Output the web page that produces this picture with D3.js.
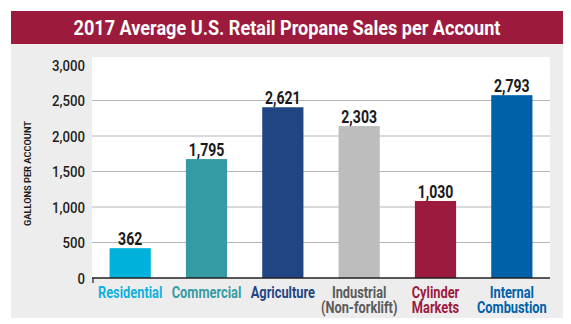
<!DOCTYPE html>
<html>
<head>
<meta charset="utf-8">
<script src="https://cdn.jsdelivr.net/npm/d3@7/dist/d3.min.js"></script>
<style>
  html, body { margin: 0; padding: 0; background: #ffffff; }
  svg { display: block; }
  text { font-family: Roboto, "Liberation Sans", sans-serif; }
</style>
</head>
<body>
<div id="chart"></div>
<script>
// ---- data ----
const title = "2017 Average U.S. Retail Propane Sales per Account";
const yAxisTitle = "GALLONS PER ACCOUNT";
const categories = ["Residential", "Commercial", "Agriculture", "Industrial\n(Non-forklift)", "Cylinder\nMarkets", "Internal\nCombustion"];
// labelled values
const values = [362, 1795, 2621, 2303, 1030, 2793];
// bar tops as drawn in the picture, read against the axis
const barHeights = [420, 1675, 2405, 2140, 1085, 2575];
const yTicks = [0, 500, 1000, 1500, 2000, 2500, 3000];
const barColors = ["#00b1db", "#349ba4", "#1f4682", "#bdbdbd", "#9c1a3e", "#0061a9"];
const labelColors = ["#12b0dc", "#349ba4", "#1f4682", "#5b5b5b", "#9c1a3e", "#0061a9"];

// ---- helpers ----
function condense(sel, k) {
  sel.each(function () {
    const w = this.getComputedTextLength();
    d3.select(this).attr("textLength", w * k).attr("lengthAdjust", "spacingAndGlyphs");
  });
}

// ---- layout ----
const W = 571, H = 324;
const svg = d3.select("#chart").append("svg").attr("width", W).attr("height", H);

// background panel
svg.append("rect").attr("x", 11).attr("y", 44).attr("width", 552).attr("height", 274).attr("fill", "#eeeded");
// title banner
svg.append("rect").attr("x", 11).attr("y", 11).attr("width", 552).attr("height", 33).attr("fill", "#9c1a3c");
svg.append("text").attr("x", 287).attr("y", 35).attr("text-anchor", "middle")
  .attr("fill", "#ffffff").attr("font-size", 21).attr("font-weight", "bold")
  .attr("textLength", 427).attr("lengthAdjust", "spacingAndGlyphs").text(title);

const plot = { left: 92, right: 550, top: 57, bottom: 278 };
svg.append("rect").attr("x", plot.left).attr("y", plot.top)
  .attr("width", plot.right - plot.left).attr("height", plot.bottom - plot.top).attr("fill", "#ffffff");

const x = d3.scaleBand().domain(categories).range([plot.left, plot.right]).paddingInner(0.46).paddingOuter(0.23);
const y = d3.scaleLinear().domain([0, 3000]).range([plot.bottom, 65]);

// grid lines
svg.append("g").selectAll("line").data(yTicks.filter(t => t > 0 && t < 3000)).join("line")
  .attr("x1", plot.left).attr("x2", plot.right)
  .attr("y1", d => y(d)).attr("y2", d => y(d))
  .attr("stroke", "#b5b5b5").attr("stroke-width", 1.2);

// y axis labels
const yAxis = d3.axisLeft(y).tickValues(yTicks).tickFormat(d3.format(",")).tickSize(0).tickPadding(0);
const gy = svg.append("g").attr("transform", `translate(${plot.left - 7},0)`).call(yAxis);
gy.select(".domain").remove();
gy.selectAll("text").attr("font-size", 15).attr("font-weight", 500).attr("fill", "#231f20")
  .attr("font-family", "Roboto, sans-serif").attr("dy", "0.36em");
condense(gy.selectAll("text"), 0.88);

// y axis title
svg.append("text").attr("transform", `translate(31,${(plot.top + plot.bottom) / 2 + 6}) rotate(-90)`)
  .attr("text-anchor", "middle").attr("font-size", 9.5).attr("font-weight", "bold").attr("fill", "#231f20")
  .attr("textLength", 105).attr("lengthAdjust", "spacingAndGlyphs")
  .text(yAxisTitle);

// bars
svg.append("g").selectAll("rect").data(categories).join("rect")
  .attr("x", d => x(d)).attr("width", x.bandwidth())
  .attr("y", (d, i) => y(barHeights[i]))
  .attr("height", (d, i) => y(0) - y(barHeights[i]))
  .attr("fill", (d, i) => barColors[i]);

// value labels
const vl = svg.append("g").selectAll("text").data(categories).join("text")
  .attr("x", d => x(d) + x.bandwidth() / 2)
  .attr("y", (d, i) => y(barHeights[i]) - 3)
  .attr("text-anchor", "middle").attr("font-size", 18).attr("font-weight", "bold").attr("fill", "#1a1a1a")
  .text((d, i) => d3.format(",")(values[i]));
condense(vl, 0.78);

// baseline
svg.append("line").attr("x1", plot.left).attr("x2", plot.right).attr("y1", y(0)).attr("y2", y(0))
  .attr("stroke", "#231f20").attr("stroke-width", 1.6);
svg.append("line").attr("x1", plot.left + 1).attr("x2", plot.left + 1).attr("y1", y(0)).attr("y2", y(0) + 5)
  .attr("stroke", "#231f20").attr("stroke-width", 1.2);

// category labels
const cl = svg.append("g").selectAll("text").data(categories).join("text")
  .attr("text-anchor", "middle").attr("font-size", 16).attr("font-weight", "bold")
  .attr("fill", (d, i) => labelColors[i])
  .attr("transform", d => `translate(${x(d) + x.bandwidth() / 2},298)`);
const ts = cl.selectAll("tspan").data(d => d.split("\n")).join("tspan")
  .attr("x", 0).attr("dy", (d, i) => i === 0 ? 0 : 14.5).text(d => d);
condense(ts, 0.8);
</script>
</body>
</html>
